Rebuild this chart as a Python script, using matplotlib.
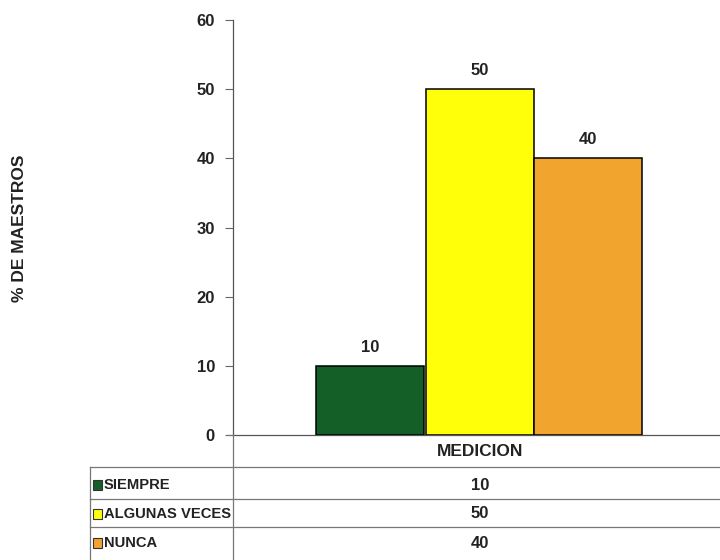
import matplotlib.pyplot as plt
from matplotlib.lines import Line2D
from matplotlib.patches import Rectangle

plt.rcParams['font.family'] = ['Liberation Sans', 'DejaVu Sans']
plt.rcParams['font.weight'] = 'bold'

series = ["SIEMPRE", "ALGUNAS VECES", "NUNCA"]
values = [10, 50, 40]
colors = ["#145f28", "#ffff0a", "#f2a52e"]
category = "MEDICION"
yticks = [0, 10, 20, 30, 40, 50, 60]

W, H = 720, 560


def fx(px):
    return px / W


def fy(py):
    return 1 - py / H


fig = plt.figure(figsize=(7.2, 5.6), dpi=100)
ax = fig.add_axes([fx(233), fy(435), fx(720) - fx(233), fy(20) - fy(435)])

offsets = [-0.222, 0.0, 0.219]
width = 0.219
bars = ax.bar(offsets, values, width=width, color=colors,
              edgecolor="black", linewidth=1.1, zorder=3)
ax.bar_label(bars, labels=[str(v) for v in values], padding=8,
             fontsize=12, fontweight="bold", color="#222222")

ax.set_xlim(-0.5, 0.486)
ax.set_ylim(0, 60)
ax.set_yticks(yticks)
ax.set_yticklabels([str(t) for t in yticks], fontsize=12, fontweight="bold",
                   color="#222222")
ax.set_xticks([])
ax.tick_params(axis="y", direction="out", length=6, width=0.8,
               color="#666666", pad=7)
for s in ["top", "right"]:
    ax.spines[s].set_visible(False)
ax.spines["left"].set_color("#555555")
ax.spines["bottom"].set_color("#555555")
ax.spines["left"].set_linewidth(0.9)
ax.spines["bottom"].set_linewidth(0.9)

fig.text(fx(20), fy(228), "% DE MAESTROS", rotation=90, ha="center",
         va="center", fontsize=12.5, fontweight="bold", color="#222222")

# data table under the chart
line_kw = dict(color="#777777", linewidth=0.9)
fig.add_artist(Line2D([fx(227), fx(233)], [fy(435), fy(435)], **line_kw))
fig.add_artist(Line2D([fx(233), fx(233)], [fy(435), fy(560)], **line_kw))
fig.add_artist(Line2D([fx(90), fx(90)], [fy(467), fy(560)], **line_kw))
for yb in [467, 499, 527]:
    fig.add_artist(Line2D([fx(90), fx(720)], [fy(yb), fy(yb)], **line_kw))

fig.text(fx(480), fy(451), category, ha="center", va="center",
         fontsize=12.5, fontweight="bold", color="#222222")

row_y = [485, 514, 543]
for name, val, col, yc in zip(series, values, colors, row_y):
    fig.patches.append(Rectangle((fx(93), fy(yc + 5)), fx(9), fy(0) - fy(10),
                                 transform=fig.transFigure, facecolor=col,
                                 edgecolor="#333333", linewidth=0.8))
    fig.text(fx(104), fy(yc), name, ha="left", va="center", fontsize=10.6,
             fontweight="bold", color="#222222")
    fig.text(fx(480), fy(yc), str(val), ha="center", va="center",
             fontsize=12, fontweight="bold", color="#222222")

fig.savefig("out.png", dpi=100)
